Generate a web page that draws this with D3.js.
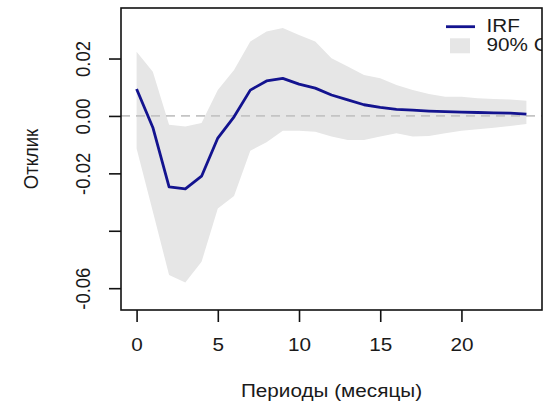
<!DOCTYPE html>
<html>
<head>
<meta charset="utf-8">
<script src="https://cdn.jsdelivr.net/npm/d3@7"></script>
<style>
  body { margin: 0; background: #fff; }
  svg text { font-family: "Liberation Sans", Arial, sans-serif; fill: #1a1a1a; }
</style>
</head>
<body>
<svg width="556" height="401"></svg>
<script>
"use strict";

// impulse response, periods 0..24
const periods = d3.range(0, 25);
const irf = [0.0094, -0.0040, -0.0247, -0.0254, -0.0210, -0.0077, -0.0003, 0.0090, 0.0122, 0.0131,
  0.0111, 0.0097, 0.0073, 0.0056, 0.0039, 0.0030, 0.0023, 0.0020, 0.0017, 0.0015,
  0.0013, 0.0012, 0.0011, 0.0010, 0.0006];
const upper = [0.0224, 0.0154, -0.0031, -0.0037, -0.0025, 0.0090, 0.0160, 0.0259, 0.0294, 0.0306,
  0.0282, 0.0259, 0.0201, 0.0172, 0.0143, 0.0131, 0.0108, 0.0090, 0.0076, 0.0067,
  0.0067, 0.0062, 0.0059, 0.0057, 0.0053];
const lower = [-0.0113, -0.0333, -0.0554, -0.0580, -0.0508, -0.0322, -0.0279, -0.0121, -0.0092, -0.0052,
  -0.0052, -0.0055, -0.0072, -0.0084, -0.0084, -0.0072, -0.0060, -0.0072, -0.0070, -0.0060,
  -0.0052, -0.0046, -0.0041, -0.0035, -0.0028];

const xTicks = [0, 5, 10, 15, 20];
const yTicks = [0.02, 0, -0.02, -0.04, -0.06];
const yTickLabels = ["0.02", "0.00", "-0.02", "", "-0.06"];
const legendLabels = ["IRF", "90% CI"];

const svg = d3.select("svg");
const margin = { top: 8, right: 14, bottom: 91, left: 121 };
const width = +svg.attr("width");
const height = +svg.attr("height");
const innerWidth = width - margin.left - margin.right;
const innerHeight = height - margin.top - margin.bottom;
const stretch = 1.12; // text in the picture is a bit wider than tall
const fontSize = 18.5;

const x = d3.scaleLinear().domain([-0.96, 24.96]).range([0, innerWidth]);
const y = d3.scaleLinear().domain([-0.0676, 0.0376]).range([innerHeight, 0]);

const g = svg.append("g").attr("transform", `translate(${margin.left},${margin.top})`);

g.append("clipPath").attr("id", "plot-clip")
  .append("rect").attr("width", innerWidth).attr("height", innerHeight);

const plot = g.append("g").attr("clip-path", "url(#plot-clip)");

// confidence band
plot.append("path")
  .datum(periods)
  .attr("fill", "#e6e6e6")
  .attr("d", d3.area()
    .x(i => x(i))
    .y0(i => y(lower[i]))
    .y1(i => y(upper[i])));

// zero line
plot.append("line")
  .attr("x1", 0).attr("x2", innerWidth)
  .attr("y1", y(0)).attr("y2", y(0))
  .attr("stroke", "#c4c4c4")
  .attr("stroke-width", 1.8)
  .attr("stroke-dasharray", "9,6");

plot.append("path")
  .datum(periods)
  .attr("fill", "none")
  .attr("stroke", "#13138f")
  .attr("stroke-width", 2.8)
  .attr("stroke-linejoin", "round")
  .attr("d", d3.line().x(i => x(i)).y(i => y(irf[i])));

// legend (top right, cut by the box like in R)
const legend = plot.append("g").attr("transform", `translate(${innerWidth - 96},0)`);
legend.append("line")
  .attr("x1", 0).attr("x2", 29).attr("y1", 18.7).attr("y2", 18.7)
  .attr("stroke", "#13138f").attr("stroke-width", 2.8);
legend.append("rect")
  .attr("x", 4).attr("y", 30.3).attr("width", 20).attr("height", 15)
  .attr("fill", "#e6e6e6");
legend.selectAll("text.leg")
  .data(legendLabels)
  .enter()
  .append("text")
  .attr("class", "leg")
  .attr("font-size", fontSize)
  .attr("transform", (d, i) => `translate(40.5,${18 + i * 19}) scale(${stretch},1)`)
  .attr("dy", "0.35em")
  .text(d => d);

// box
g.append("rect")
  .attr("width", innerWidth).attr("height", innerHeight)
  .attr("fill", "none").attr("stroke", "#111").attr("stroke-width", 1.6);

const xAxisG = g.append("g")
  .attr("transform", `translate(0,${innerHeight})`)
  .call(d3.axisBottom(x).tickValues(xTicks).tickSize(12).tickPadding(16).tickFormat(d3.format("d")));
const yAxisG = g.append("g")
  .call(d3.axisLeft(y).tickValues(yTicks).tickSize(12).tickFormat((d, i) => yTickLabels[i]));

[xAxisG, yAxisG].forEach(a => {
  a.select(".domain").remove();
  a.selectAll(".tick line").attr("stroke", "#111").attr("stroke-width", 1.6);
  a.selectAll(".tick text")
    .attr("font-size", fontSize)
    .attr("font-family", null)
    .attr("fill", null);
});
xAxisG.selectAll(".tick text").attr("transform", `scale(${stretch},1)`);
yAxisG.selectAll(".tick text")
  .attr("x", 0)
  .attr("y", -28)
  .attr("dy", 0)
  .attr("text-anchor", "middle")
  .attr("transform", `scale(${stretch},1) rotate(-90)`);

// axis titles
g.append("text")
  .attr("transform", `translate(${innerWidth / 2},${innerHeight + 87}) scale(${stretch},1)`)
  .attr("text-anchor", "middle")
  .attr("font-size", fontSize)
  .text("Периоды (месяцы)");

g.append("text")
  .attr("transform", `translate(${38 - margin.left},${innerHeight / 2}) scale(${stretch},1) rotate(-90)`)
  .attr("text-anchor", "middle")
  .attr("font-size", fontSize)
  .text("Отклик");
</script>
</body>
</html>
